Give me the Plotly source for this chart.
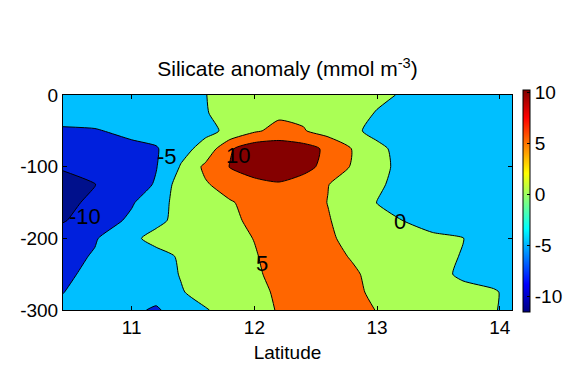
import plotly.graph_objects as go

# Latitude positions of the gridded section (columns)
latitude = [10.44, 10.7, 11.0, 11.2, 11.4, 11.6, 11.8, 12.0, 12.2, 12.4,
            12.6, 12.8, 13.0, 13.2, 13.45, 13.7, 13.95, 14.1]
# Depth levels (rows), metres
depth = [0, -25, -50, -75, -100, -125, -150, -175, -200, -225, -250, -275, -300]

# Silicate anomaly (mmol m^-3), one row per depth
si_d0 = [-3, -3, -2.5, -2, -1, -0.1, 1.5, 2.5, 3, 3, 3, 2.5, 1.2, -0.4, -2, -2.5, -3, -3]
si_d25 = [-3, -3, -2.5, -2, -1.2, -0.2, 1.2, 3, 4, 4, 3.5, 2, -0.3, -1.5, -2.5, -3, -3, -3]
si_d50 = [-5.6, -5.3, -4, -3, -2, -1, 0.8, 4.3, 6.5, 5.3, 3, 1, -1.5, -2.5, -3, -3.2, -3.3, -3.3]
si_d75 = [-8, -7, -6, -5.4, -1.5, 1.5, 9.4, 13, 13, 12, 9, 4.8, 1.2, -1.5, -3, -3.3, -3.4, -3.4]
si_d100 = [-9.7, -8, -6.5, -5.2, 0.3, 6, 10.2, 12.5, 13, 11.5, 8.5, 4.5, 1.5, -1.2, -3, -3.5, -3.6, -3.6]
si_d125 = [-11, -10.1, -7.5, -4.5, 2.5, 4.5, 7, 8.5, 9.5, 8, 5.1, 3, 0.8, -1.5, -3, -3.6, -3.7, -3.7]
si_d150 = [-11, -9.2, -5.5, -1.7, 1.5, 3, 4.6, 6.5, 7.5, 7, 4.9, 2.5, -0.1, -1.5, -3, -3.7, -3.8, -3.8]
si_d175 = [-10.3, -8, -4, -1.2, 1.5, 3, 4, 6, 7, 6.8, 5.3, 3, 1.5, 0.05, -2, -3.5, -3.8, -3.8]
si_d200 = [-8, -5.4, -1, 1.5, 2.5, 3, 3.8, 5.1, 6.5, 6.5, 5.8, 3.5, 2.5, 1.8, 1, 0.1, -2, -3]
si_d225 = [-6.5, -4.6, -3, -1.5, 0.5, 2, 3, 4.7, 6.5, 7, 6.5, 4.6, 3, 2, 1.2, -0.2, -2.5, -3]
si_d250 = [-5.6, -4.2, -3, -1.8, 0.2, 2, 3, 4.2, 6.5, 7.5, 7, 5.7, 3.5, 2.2, 1.2, -0.6, -2.5, -3]
si_d275 = [-5.05, -4, -3, -1.8, -0.3, 1.5, 2.5, 3.5, 5.8, 7, 6.8, 6, 4, 2.5, 1.5, 1, 0.6, -1.5]
si_d300 = [-4.5, -4, -3.5, -6, -1, -0.3, 1.5, 3.5, 5.3, 7, 7, 6, 4.9, 3, 2, 1.2, 0.4, -1.5]

silicate = [si_d0, si_d25, si_d50, si_d75, si_d100, si_d125, si_d150,
            si_d175, si_d200, si_d225, si_d250, si_d275, si_d300]

# Contour labels
label_text = ["-5", "-10", "10", "5", "0"]
label_lat = [11.29, 10.62, 11.865, 12.06, 13.19]
label_depth = [-86, -169, -84, -235, -177]

x_ticks = [11, 12, 13, 14]
x_ticktext = ["11", "12", "13", "14"]
y_ticks = [0, -100, -200, -300]
y_ticktext = ["0", "-100", "-200", "-300"]
cb_ticks = [-10, -5, 0, 5, 10]
cb_ticktext = ["-10", "-5", "0", "5", "10"]

# band colours (below -10, -10..-5, -5..0, 0..5, 5..10, above 10)
band_colors = ["#00108C", "#0020DD", "#00BFFF", "#AAFF55", "#FF6600", "#850000"]
band_scale = []
edges = [0, 0.1, 0.3, 0.5, 0.7, 0.9, 1.0]
for i, c in enumerate(band_colors):
    band_scale.append([edges[i], c])
    band_scale.append([edges[i + 1], c])

jet = [[0.0, "rgb(0,0,128)"], [0.125, "rgb(0,0,255)"], [0.375, "rgb(0,255,255)"],
       [0.625, "rgb(255,255,0)"], [0.875, "rgb(255,0,0)"], [1.0, "rgb(128,0,0)"]]

FONT = "Liberation Sans, Arial, sans-serif"

fig = go.Figure()
fig.add_trace(go.Contour(
    x=latitude, y=depth, z=silicate,
    autocontour=False,
    contours=dict(start=-10, end=10, size=5, coloring="fill", showlabels=False),
    colorscale=band_scale,
    line=dict(color="black", width=1, smoothing=0.6),
    showscale=False,
    hoverinfo="skip",
))

fig.add_trace(go.Scatter(
    x=[None], y=[None], mode="markers",
    marker=dict(
        color=[0], colorscale=jet, cmin=-11.5, cmax=10.2, showscale=True,
        colorbar=dict(
            x=1.0245, xanchor="left", xpad=0,
            y=0.507, yanchor="middle", ypad=0,
            lenmode="pixels", len=222,
            thicknessmode="pixels", thickness=7,
            outlinewidth=1, outlinecolor="black",
            tickvals=cb_ticks, ticktext=cb_ticktext,
            ticks="inside", ticklen=3, tickcolor="black",
            tickfont=dict(family=FONT, size=19, color="black"),
        ),
    ),
    showlegend=False, hoverinfo="skip",
))

for t, lx, ly in zip(label_text, label_lat, label_depth):
    fig.add_annotation(x=lx, y=ly, text=t, showarrow=False,
                       font=dict(family=FONT, size=22, color="black"))

fig.update_layout(
    width=567, height=369,
    margin=dict(l=63, r=55, t=95, b=59, autoexpand=False),
    paper_bgcolor="white", plot_bgcolor="white",
    title=dict(text="Silicate anomaly (mmol m<sup>-3</sup>)",
               x=0.5, xref="paper", xanchor="center",
               y=1 - 69 / 369, yref="container", yanchor="middle",
               font=dict(family=FONT, size=21, color="black")),
    font=dict(family=FONT, size=19, color="black"),
    showlegend=False,
)
fig.update_xaxes(range=[10.44, 14.1], tickvals=x_ticks, ticktext=x_ticktext,
                 ticks="inside", ticklen=4, tickcolor="black", mirror="ticks",
                 showline=True, linecolor="black", linewidth=1, showgrid=False,
                 zeroline=False, tickfont=dict(family=FONT, size=19),
                 title=dict(text="Latitude", font=dict(family=FONT, size=19), standoff=8))
fig.update_yaxes(range=[-300, 0], tickvals=y_ticks, ticktext=y_ticktext,
                 ticks="inside", ticklen=4, tickcolor="black", mirror="ticks",
                 showline=True, linecolor="black", linewidth=1, showgrid=False,
                 zeroline=False, tickfont=dict(family=FONT, size=19))

fig.write_html("out.html")
